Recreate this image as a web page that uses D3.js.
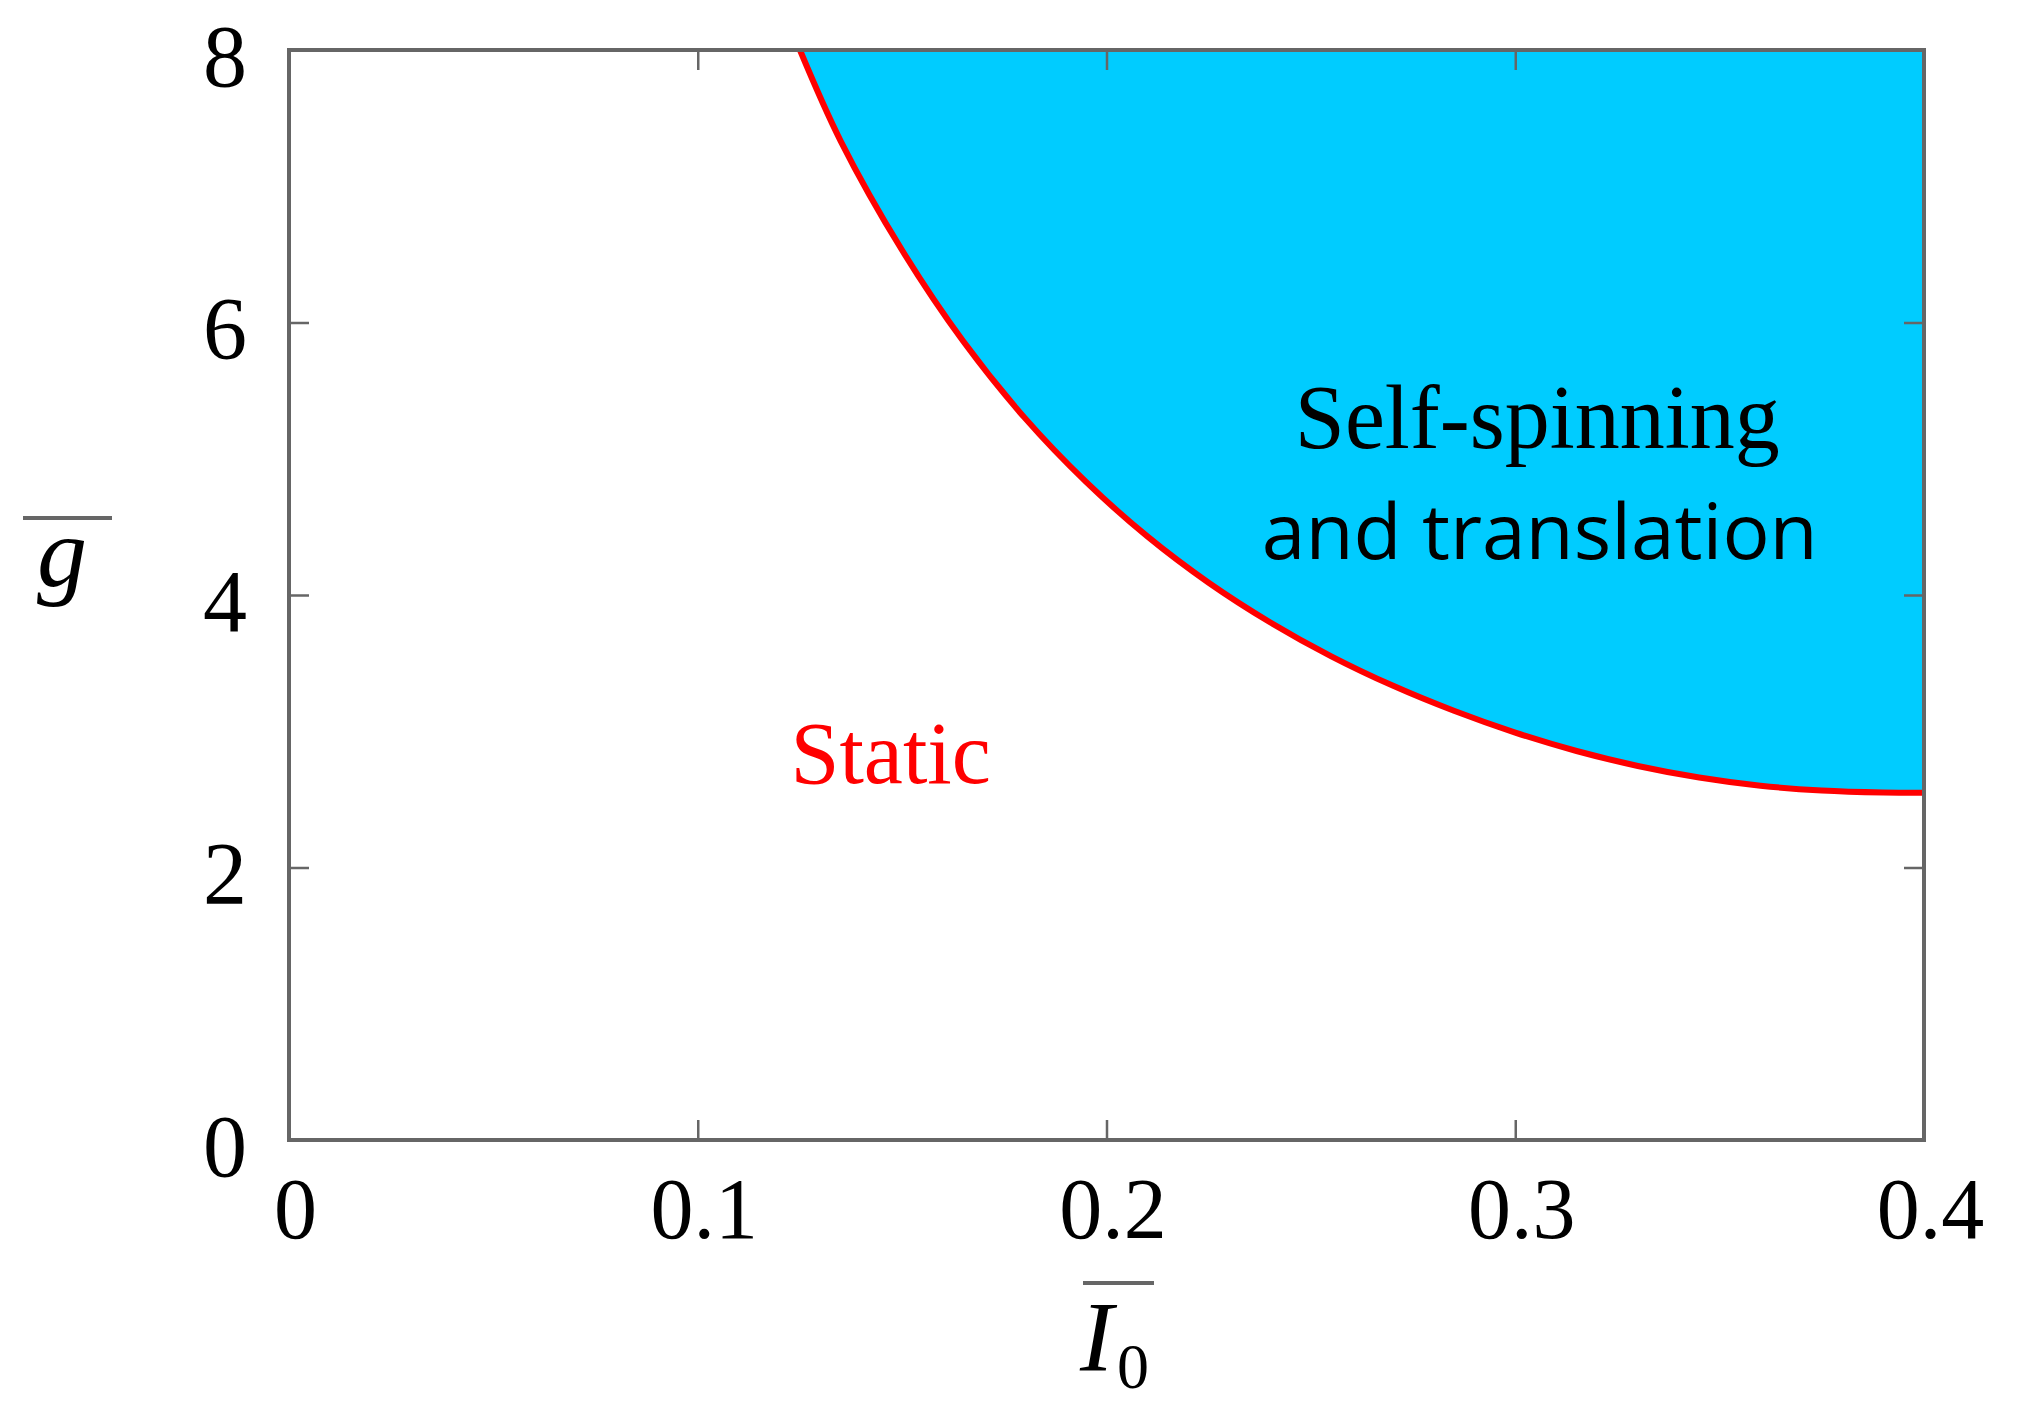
<!DOCTYPE html>
<meta charset="utf-8">
<style>
  body { margin: 0; background: #fff; }
</style>

<!-- Load d3.js -->
<script src="https://d3js.org/d3.v7.min.js"></script>

<div id="chart"></div>

<script>
// Boundary between the static and the self-spinning regime
const i0Vals = [0.125, 0.135, 0.150, 0.165, 0.180, 0.195, 0.210, 0.225, 0.240, 0.255,
                0.270, 0.285, 0.300, 0.315, 0.330, 0.345, 0.360, 0.375, 0.390, 0.400];
const gVals  = [8.00, 7.33, 6.53, 5.86, 5.30, 4.83, 4.43, 4.09, 3.80, 3.55,
                3.335, 3.15, 2.99, 2.855, 2.745, 2.66, 2.60, 2.565, 2.55, 2.548];

const xTicks = [0, 0.1, 0.2, 0.3, 0.4];
const yTicks = [0, 2, 4, 6, 8];
const xTickLabels = ["0", "0.1", "0.2", "0.3", "0.4"];
const yTickLabels = ["0", "2", "4", "6", "8"];

const regionLabels = ["Self-spinning", "and translation", "Static"];

const W = 2038, H = 1419;
const margin = {top: 50, right: 114, bottom: 279, left: 289};
const serif = "'Liberation Serif', 'Times New Roman', serif";
const frameColor = "#666666";

const svg = d3.select("#chart")
    .append("svg")
    .attr("width", W)
    .attr("height", H);

const x = d3.scaleLinear().domain([0, 0.4]).range([margin.left, W - margin.right]);
const y = d3.scaleLinear().domain([0, 8]).range([H - margin.bottom, margin.top]);

const data = i0Vals.map((v, i) => ({i0: v, g: gVals[i]}));
const curve = d3.curveCatmullRom.alpha(0.5);

// Blue region above the boundary
svg.append("path")
    .datum(data)
    .attr("fill", "#00ccff")
    .attr("d", d3.area()
        .x(d => x(d.i0))
        .y0(y(8))
        .y1(d => y(d.g))
        .curve(curve));

// Red boundary line
svg.append("path")
    .datum(data)
    .attr("fill", "none")
    .attr("stroke", "#ff0000")
    .attr("stroke-width", 6)
    .attr("d", d3.line()
        .x(d => x(d.i0))
        .y(d => y(d.g))
        .curve(curve));

// Axes: ticks point inward on all four sides
const tickLen = 20;
function styleAxis(g) {
    g.select(".domain").remove();
    g.selectAll(".tick line").attr("stroke", frameColor).attr("stroke-width", 2.5);
    g.selectAll(".tick text")
        .attr("fill", "#000")
        .style("font-family", serif)
        .style("font-size", "86px");
}

svg.append("g")
    .attr("transform", `translate(0, ${y(0)})`)
    .call(d3.axisBottom(x).tickValues(xTicks).tickSizeInner(-tickLen).tickSizeOuter(0)
        .tickPadding(37).tickFormat((d, i) => xTickLabels[i]))
    .call(styleAxis)
    .call(g => g.selectAll(".tick text").attr("dx", 6));

svg.append("g")
    .attr("transform", `translate(0, ${y(8)})`)
    .call(d3.axisTop(x).tickValues(xTicks).tickSizeInner(-tickLen).tickSizeOuter(0).tickFormat(""))
    .call(styleAxis);

svg.append("g")
    .attr("transform", `translate(${x(0)}, 0)`)
    .call(d3.axisLeft(y).tickValues(yTicks).tickSizeInner(-tickLen).tickSizeOuter(0)
        .tickPadding(42).tickFormat((d, i) => yTickLabels[i]))
    .call(styleAxis)
    .call(g => g.selectAll(".tick text").attr("dy", "0.4em").style("font-size", "88px"));

svg.append("g")
    .attr("transform", `translate(${x(0.4)}, 0)`)
    .call(d3.axisRight(y).tickValues(yTicks).tickSizeInner(-tickLen).tickSizeOuter(0).tickFormat(""))
    .call(styleAxis);

// Frame
svg.append("rect")
    .attr("x", x(0))
    .attr("y", y(8))
    .attr("width", x(0.4) - x(0))
    .attr("height", y(0) - y(8))
    .attr("fill", "none")
    .attr("stroke", frameColor)
    .attr("stroke-width", 4);

// Region labels
svg.append("text")
    .attr("x", x(0.3054))
    .attr("y", y(5.08))
    .attr("text-anchor", "middle")
    .style("font-family", serif)
    .style("font-size", "90px")
    .text(regionLabels[0]);

svg.append("text")
    .attr("x", x(0.306))
    .attr("y", y(4.265))
    .attr("text-anchor", "middle")
    .attr("textLength", 556)
    .attr("lengthAdjust", "spacingAndGlyphs")
    .style("font-family", "'Open Sans', 'Noto Sans', sans-serif")
    .style("font-size", "76px")
    .text(regionLabels[1]);

svg.append("text")
    .attr("x", x(0.1472))
    .attr("y", y(2.62))
    .attr("text-anchor", "middle")
    .attr("fill", "#ff0000")
    .style("font-family", serif)
    .style("font-size", "88px")
    .text(regionLabels[2]);

// Axis titles (with overbars)
svg.append("line")
    .attr("x1", 23).attr("x2", 112)
    .attr("y1", 518).attr("y2", 518)
    .attr("stroke", frameColor).attr("stroke-width", 4);

svg.append("text")
    .attr("x", 62)
    .attr("y", 586)
    .attr("text-anchor", "middle")
    .style("font-family", serif)
    .style("font-style", "italic")
    .style("font-size", "100px")
    .text("g");

svg.append("line")
    .attr("x1", 1083).attr("x2", 1154)
    .attr("y1", 1283).attr("y2", 1283)
    .attr("stroke", frameColor).attr("stroke-width", 4);

const xTitle = svg.append("text")
    .attr("x", 1080)
    .attr("y", 1370)
    .style("font-family", serif)
    .style("font-size", "100px");
xTitle.append("tspan").style("font-style", "italic").text("I");
xTitle.append("tspan")
    .attr("x", 1117)
    .attr("y", 1388)
    .style("font-size", "64px")
    .text("0");
</script>
